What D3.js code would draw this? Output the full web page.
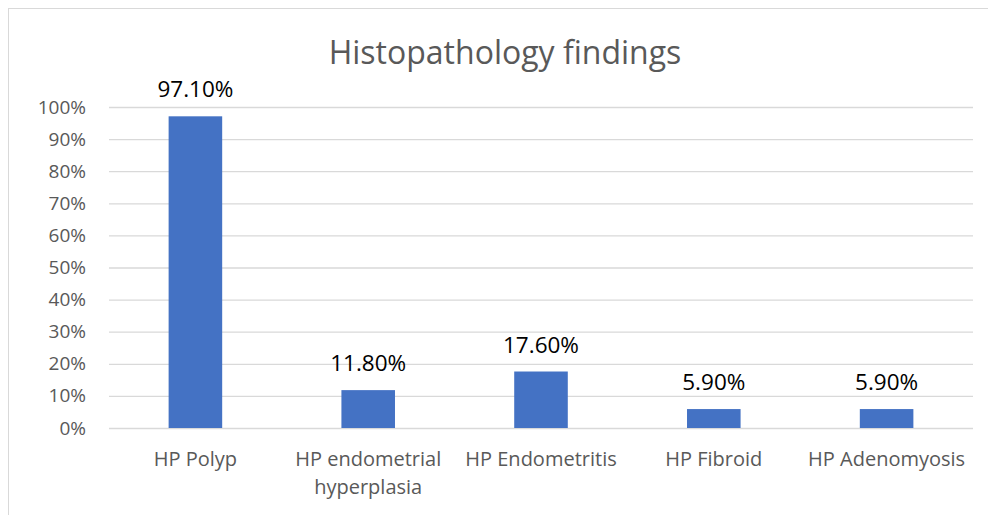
<!DOCTYPE html>
<html>
<head>
<meta charset="utf-8">
<script src="https://cdn.jsdelivr.net/npm/d3@7"></script>
<style>
  body { margin: 0; background: #fff; }
  svg { font-family: "Open Sans", "Liberation Sans", sans-serif; }
</style>
</head>
<body>
<div id="chart"></div>
<script>
const categories = ["HP Polyp", "HP endometrial hyperplasia", "HP Endometritis", "HP Fibroid", "HP Adenomyosis"];
const values = [0.971, 0.118, 0.176, 0.059, 0.059];
const valueLabels = ["97.10%", "11.80%", "17.60%", "5.90%", "5.90%"];
const yTicks = [0, 0.1, 0.2, 0.3, 0.4, 0.5, 0.6, 0.7, 0.8, 0.9, 1.0];
const title = "Histopathology findings";

const width = 988, height = 515;
const plot = {left: 109, right: 973, top: 107, bottom: 428};

const svg = d3.select("#chart").append("svg")
    .attr("width", width)
    .attr("height", height);

// chart border
svg.append("rect")
    .attr("x", 8.5).attr("y", 8.5)
    .attr("width", 995).attr("height", 520)
    .attr("fill", "none")
    .attr("stroke", "#d9d9d9");

const x = d3.scaleBand()
    .domain(categories)
    .range([plot.left, plot.right])
    .paddingInner(0.69)
    .paddingOuter(0.345);

const y = d3.scaleLinear()
    .domain([0, 1])
    .range([plot.bottom, plot.top]);

// gridlines + y labels
const yAxis = svg.append("g")
    .attr("transform", `translate(${plot.left},0)`)
    .call(d3.axisLeft(y).tickValues(yTicks).tickFormat(d3.format(".0%"))
        .tickSize(-(plot.right - plot.left)).tickPadding(23));
yAxis.select(".domain").remove();
yAxis.selectAll(".tick line").attr("stroke", "#d9d9d9").attr("stroke-width", 1.3);
yAxis.selectAll(".tick text")
    .attr("fill", "#595959")
    .attr("font-size", 19)
    .attr("font-family", "'Open Sans', sans-serif");

// bars
svg.append("g").selectAll("rect")
    .data(values)
    .join("rect")
    .attr("x", (d, i) => x(categories[i]))
    .attr("y", d => y(d))
    .attr("width", x.bandwidth())
    .attr("height", d => y(0) - y(d))
    .attr("fill", "#4472c4");

// value labels
svg.append("g").selectAll("text")
    .data(values)
    .join("text")
    .attr("x", (d, i) => x(categories[i]) + x.bandwidth() / 2)
    .attr("y", d => y(d) - 19)
    .attr("text-anchor", "middle")
    .attr("font-size", 22.5)
    .attr("fill", "#000")
    .text((d, i) => valueLabels[i]);

// category labels (wrapped like the original)
const catLines = [["HP Polyp"], ["HP endometrial", "hyperplasia"], ["HP Endometritis"], ["HP Fibroid"], ["HP Adenomyosis"]];
const xl = svg.append("g").selectAll("text")
    .data(categories)
    .join("text")
    .attr("x", d => x(d) + x.bandwidth() / 2)
    .attr("y", 466)
    .attr("text-anchor", "middle")
    .attr("font-size", 20)
    .attr("fill", "#595959");
xl.each(function(d, i) {
    d3.select(this).selectAll("tspan")
        .data(catLines[i])
        .join("tspan")
        .attr("x", x(d) + x.bandwidth() / 2)
        .attr("dy", (t, j) => j ? 28 : 0)
        .text(t => t);
});

// title
svg.append("text")
    .attr("x", 505)
    .attr("y", 64)
    .attr("text-anchor", "middle")
    .attr("font-size", 32)
    .attr("fill", "#595959")
    .text(title);
</script>
</body>
</html>
